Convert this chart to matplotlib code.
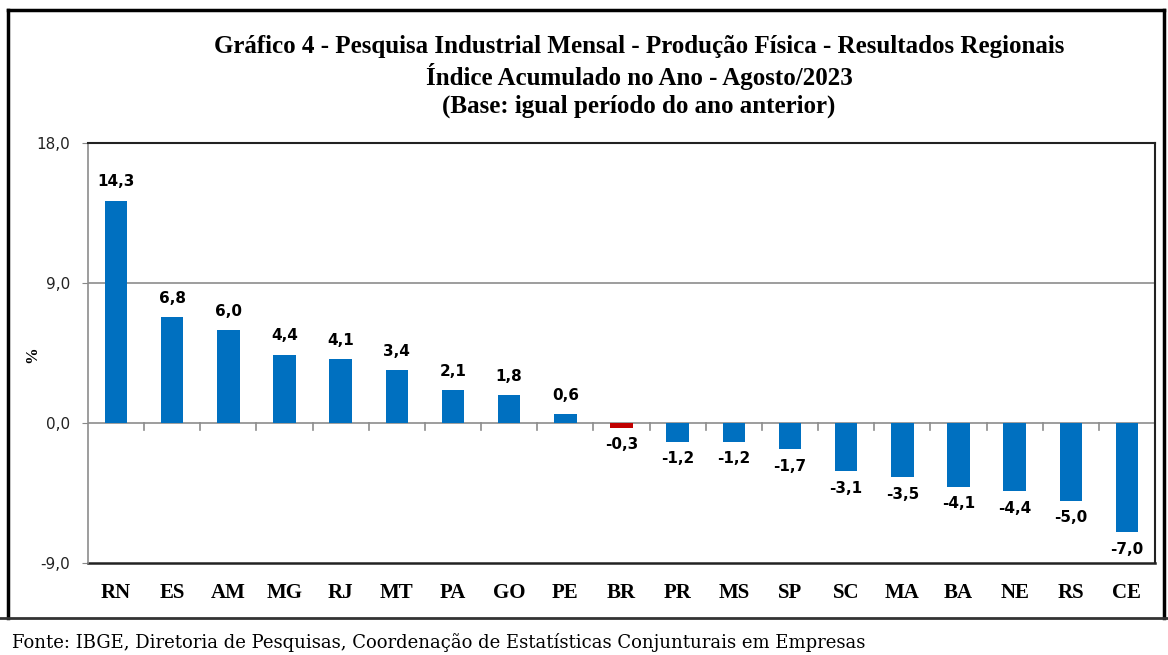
import matplotlib
matplotlib.use("Agg")
import matplotlib.pyplot as plt
from matplotlib.lines import Line2D

# data
states = ["RN", "ES", "AM", "MG", "RJ", "MT", "PA", "GO", "PE", "BR",
          "PR", "MS", "SP", "SC", "MA", "BA", "NE", "RS", "CE"]
values = [14.3, 6.8, 6.0, 4.4, 4.1, 3.4, 2.1, 1.8, 0.6, -0.3,
          -1.2, -1.2, -1.7, -3.1, -3.5, -4.1, -4.4, -5.0, -7.0]
yticks = [-9.0, 0.0, 9.0, 18.0]

W, H = 1168, 655
fig = plt.figure(figsize=(W / 100, H / 100), dpi=100)
ax = fig.add_axes([88 / W, 1 - 563 / H, (1155 - 88) / W, (563 - 143) / H])

colors = ["#C00000" if s == "BR" else "#0070C0" for s in states]
x = list(range(len(states)))
ax.bar(x, values, width=0.4, color=colors, zorder=3)

ax.set_xlim(-0.5, len(states) - 0.5)
ax.set_ylim(-9, 18)
ax.set_yticks(yticks)
ax.set_yticklabels([f"{v:.1f}".replace(".", ",") for v in yticks],
                   fontsize=11, family="DejaVu Sans", color="#222222")
ax.tick_params(axis="y", length=4, color="#888888", pad=9)

# y axis label
fig.text(32 / W, 1 - 355 / H, "%", rotation=90, ha="center", va="center",
         fontsize=12, fontweight="bold", family="Liberation Serif")

# gridlines
ax.axhline(9, color="#8c8c8c", lw=1.2, zorder=1)

# spines: frame top/right/bottom dark, left gray, x axis at zero
for side in ["top", "right"]:
    ax.spines[side].set_color("#222222")
    ax.spines[side].set_linewidth(1.5)
ax.spines["left"].set_color("#8c8c8c")
ax.spines["left"].set_linewidth(1.2)
ax.spines["bottom"].set_visible(False)
ax.axhline(-9, color="#222222", lw=1.8, zorder=2, clip_on=False)

# zero line with boundary ticks
ax.axhline(0, color="#8c8c8c", lw=1.2, zorder=2)
ax.set_xticks([])
for b in range(1, len(states)):
    ax.plot([b - 0.5, b - 0.5], [0, -0.45], color="#8c8c8c", lw=1.2, zorder=2)

# value labels
for xi, v in zip(x, values):
    lbl = f"{v:.1f}".replace(".", ",")
    if v >= 0:
        ax.annotate(lbl, (xi, v), xytext=(0, 8), textcoords="offset points",
                    ha="center", va="bottom", fontsize=11, fontweight="bold",
                    family="DejaVu Sans")
    else:
        ax.annotate(lbl, (xi, v), xytext=(0, -7), textcoords="offset points",
                    ha="center", va="top", fontsize=11, fontweight="bold",
                    family="DejaVu Sans")

# category labels under the frame
for xi, s in zip(x, states):
    ax.text(xi, -10.93, s, ha="center", va="center", fontsize=15,
            fontweight="bold", family="Liberation Serif", clip_on=False)

# title
title_lines = ["Gráfico 4 - Pesquisa Industrial Mensal - Produção Física - Resultados Regionais",
               "Índice Acumulado no Ano - Agosto/2023",
               "(Base: igual período do ano anterior)"]
for i, t in enumerate(title_lines):
    fig.text(639 / W, 1 - (47 + i * 29.5) / H, t, ha="center", va="center",
             fontsize=18, fontweight="bold", family="Liberation Serif")

# outer frame and footer rule
fig.add_artist(Line2D([8 / W, 8 / W], [1 - 10 / H, 1 - 618 / H], color="black", lw=2.5))
fig.add_artist(Line2D([8 / W, 1164 / W], [1 - 10 / H, 1 - 10 / H], color="black", lw=2.5))
fig.add_artist(Line2D([1164 / W, 1164 / W], [1 - 10 / H, 1 - 618 / H], color="black", lw=2.5))
fig.add_artist(Line2D([0, 1], [1 - 618 / H, 1 - 618 / H], color="#333333", lw=2))

fig.text(12 / W, 1 - 643 / H, "Fonte: IBGE, Diretoria de Pesquisas, Coordenação de Estatísticas Conjunturais em Empresas",
         ha="left", va="center", fontsize=13, family="DejaVu Serif")

fig.savefig("out.png", dpi=100)
